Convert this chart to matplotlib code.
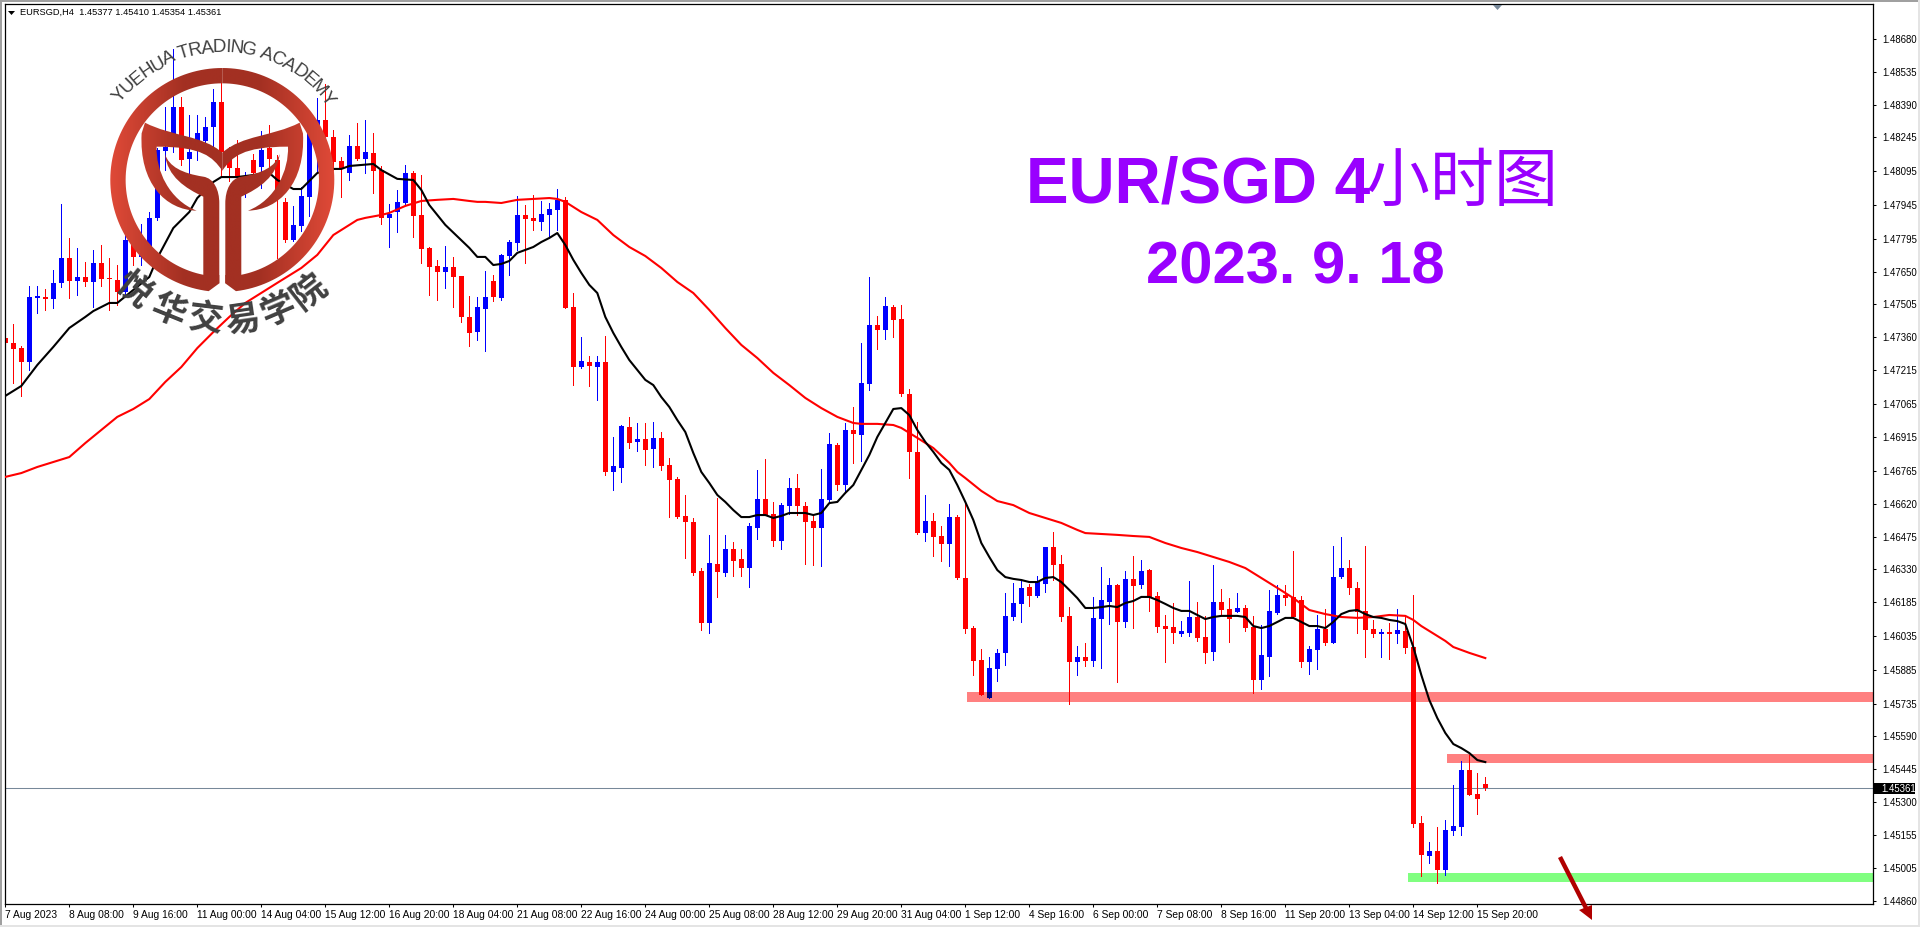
import numpy as np
import matplotlib
matplotlib.use("Agg")
import matplotlib.pyplot as plt
from matplotlib.colors import LinearSegmentedColormap
from matplotlib.patches import PathPatch, Polygon, Rectangle
from matplotlib.path import Path

# prices are in points (price x 100000), bars are 4 hours
opens = [147356,147334,147311,147249,147533,147537,147529,147600,147710,147608,
147626,147604,147688,147622,147613,147560,147812,147715,147759,147888,
148185,148202,148380,148149,148220,148229,148291,148402,148158,148109,
148012,148145,148114,148198,148145,147959,147790,147852,147981,148264,
148322,148247,148140,148087,148207,148149,148176,148100,147888,147914,
147954,148087,147901,147755,147675,147648,147671,147631,147449,147382,
147484,147608,147533,147719,147777,147901,147888,147870,147901,147923,
147968,147493,147227,147249,147227,147249,146762,146780,146961,146895,
146908,146864,146913,146793,146731,146567,146540,146323,146092,146354,
146314,146420,146376,146336,146514,146642,146576,146456,146611,146691,
146611,146545,146514,146638,146882,146704,146948,146926,147152,147413,
147391,147493,147440,147108,146851,146491,146545,146478,146443,146562,
146292,146070,145929,145760,145889,145960,146119,146177,146252,146212,
146265,146429,146354,146124,145920,145942,145924,146110,146186,146261,
146097,146288,146261,146327,146212,146079,146075,146044,146048,146119,
146030,145964,146186,146155,146141,146159,146075,145840,145942,146137,
146217,146208,146194,145920,145973,146066,146004,146296,146336,146248,
146146,146066,146044,146053,146044,146057,145986,145206,145060,145082,
144998,145171,145188,145441,145335,145377]

closes = [147334,147307,147249,147537,147542,147529,147600,147710,147608,147626,
147604,147688,147617,147617,147560,147790,147715,147790,147888,148189,
148202,148380,148145,148180,148264,148291,148402,148180,148109,148069,
148069,148087,148189,148149,148012,147790,147857,147985,148264,148322,
148247,148136,148109,148207,148149,148180,148096,147888,147905,147959,
148087,147897,147750,147671,147648,147671,147626,147449,147378,147493,
147537,147537,147724,147781,147901,147883,147874,147905,147928,147968,
147489,147227,147254,147232,147249,146762,146788,146966,146890,146908,
146859,146913,146788,146726,146562,146540,146314,146092,146358,146319,
146420,146367,146336,146522,146642,146571,146456,146615,146691,146611,
146540,146514,146642,146886,146704,146948,146930,147156,147413,147391,
147498,147436,147108,146851,146491,146545,146474,146443,146562,146292,
146066,145924,145773,145893,145960,146124,146181,146248,146212,146274,
146429,146350,146119,145920,145942,145924,146115,146194,146261,146097,
146288,146257,146323,146208,146075,146066,146048,146057,146119,146026,
145960,146186,146150,146110,146159,146070,145840,145951,146146,146217,
146203,146119,145920,145977,146066,146004,146296,146336,146248,146141,
146061,146044,146053,146044,146061,145982,145202,145064,145082,144998,
145175,145193,145441,145330,145312,145361]

highs = [147449,147418,147320,147586,147586,147573,147657,147950,147799,147755,
147693,147746,147768,147710,147679,147835,147857,147861,147914,148198,
148380,148637,148424,148344,148344,148335,148459,148486,148202,148233,
148092,148171,148273,148300,148167,147976,147941,148025,148335,148420,
148482,148278,148158,148256,148309,148322,148264,148118,147950,148012,
148123,148096,148078,147759,147702,147764,147715,147631,147542,147537,
147653,147635,147728,147790,147985,147945,147990,147963,147954,148016,
147981,147555,147360,147276,147276,147365,146917,146970,147006,146979,
146979,146983,146939,146824,146740,146660,146558,146336,146483,146647,
146483,146452,146420,146536,146771,146819,146629,146624,146735,146753,
146629,146571,146775,146935,146890,146979,147050,147334,147626,147453,
147537,147502,147502,147130,146983,146660,146580,146522,146620,146571,
146629,146079,145977,145942,145977,146226,146270,146283,146265,146301,
146429,146496,146394,146163,145990,146004,146208,146341,146292,146265,
146323,146390,146372,146332,146230,146128,146181,146101,146279,146186,
146124,146350,146243,146203,146226,146172,146124,146084,146239,146261,
146261,146412,146212,145990,146128,146155,146434,146474,146372,146274,
146434,146106,146066,146092,146155,146128,146217,145237,145122,145188,
145219,145374,145481,145507,145428,145410]

lows = [147289,147156,147099,147214,147467,147480,147489,147582,147533,147546,
147586,147493,147586,147480,147502,147546,147679,147679,147733,147879,
148100,148180,148123,148025,148145,148198,148202,148069,148052,148047,
147981,148065,148021,148092,147710,147781,147786,147830,147897,148087,
148211,148100,147981,148056,148145,148087,147999,147861,147759,147826,
147950,147804,147688,147546,147524,147577,147493,147427,147320,147347,
147298,147520,147524,147635,147746,147688,147835,147835,147799,147835,
147489,147147,147223,147143,147081,146749,146682,146718,146868,146855,
146793,146784,146771,146562,146558,146381,146305,146061,146048,146208,
146301,146301,146301,146252,146465,146571,146434,146420,146576,146571,
146354,146350,146345,146624,146682,146669,146802,146811,147125,147307,
147351,147360,147099,146735,146487,146456,146390,146367,146345,146288,
146048,145862,145773,145760,145835,145906,146106,146097,146168,146208,
146230,146283,146101,145733,145862,145902,145902,145893,146088,145831,
146075,146070,146248,146146,146053,145920,146004,146035,146035,146013,
145915,145929,146128,146008,146141,146057,145782,145800,145857,146132,
146172,146119,145897,145866,145889,145995,146004,146292,146221,146048,
145942,146030,145942,145933,146004,145960,145188,144971,145029,144940,
144975,145153,145153,145330,145246,145354]

# moving averages, read at these bars
black_bars = [0,2,4,6,8,10,11,13,14,18,19,21,23,24,26,27,29,33,34,36,37,39,41,42,43,46,47,49,51,52,53,55,58,59] + list(range(60, 186))
black_ma = [147099,147143,147236,147316,147400,147449,147475,147511,147511,147626,147710,147843,147914,147976,148047,148069,148069,148087,148056,148016,148016,148087,148105,148105,148118,148127,148100,148061,148056,148012,147945,147857,147755,147715,
147715,147679,147684,147697,147733,147746,147759,147781,147799,147821,
147768,147702,147644,147591,147555,147449,147378,147316,147258,147214,
147170,147147,147094,147050,146992,146939,146846,146762,146713,146660,
146629,146593,146562,146562,146571,146571,146558,146567,146580,146580,
146580,146571,146580,146624,146629,146669,146704,146771,146837,146917,
146979,147041,147045,147014,146948,146895,146851,146802,146771,146704,
146629,146549,146447,146385,146327,146296,146288,146283,146274,146274,
146292,146296,146274,146239,146203,146159,146159,146163,146168,146163,
146181,146190,146208,146208,146194,146177,146159,146146,146146,146128,
146110,146119,146124,146124,146124,146119,146079,146070,146079,146097,
146115,146115,146097,146079,146079,146070,146097,146132,146146,146150,
146132,146119,146115,146106,146101,146088,145986,145862,145751,145671,
145605,145556,145538,145516,145485,145476]

red_bars = [0,2,4,6,8,10,12,14,16,18,20,22,24,26,28,30,34,37,39,41,44,45,47,48,50,52,54,56,58,59,60,62,64,66,68,69,70,72,74,76,78,80,82,84,86,88,90,92,94,96,98,100,102,104,106,107,109,111,112,114,116,118,119,120,122,124,126,128,130,132,134,135,137,139,141,143,145,147,149,151,153,155,157,159,161,163,165,167,169,171,173,175,176,177,178,180,181,183,185]
red_ma = [146740,146757,146784,146806,146828,146890,146948,147006,147041,147085,147161,147227,147311,147382,147449,147511,147600,147666,147724,147812,147879,147888,147901,147910,147941,147963,147968,147972,147963,147959,147959,147954,147968,147972,147976,147972,147959,147914,147879,147812,147759,147719,147666,147604,147555,147480,147400,147325,147267,147201,147147,147090,147045,147006,146979,146975,146975,146970,146957,146913,146868,146802,146762,146735,146678,146633,146615,146580,146558,146536,146505,146491,146487,146483,146478,146474,146447,146425,146407,146385,146363,146336,146292,146248,146203,146150,146132,146119,146115,146119,146128,146124,146106,146079,146057,146013,145986,145960,145937]

# drawn zones: low, high, first bar
zone_upper = [145742, 145787, 120.2]
zone_mid = [145472, 145512, 180.2]
zone_green = [144945, 144984, 175.3]
last_price = 145361

y_ticks = [148680,148535,148390,148245,148095,147945,147795,147650,147505,147360,147215,147065,146915,146765,146620,146475,146330,146185,146035,145885,145735,145590,145445,145300,145155,145005,144860]
x_labels = ["7 Aug 2023","8 Aug 08:00","9 Aug 16:00","11 Aug 00:00","14 Aug 04:00","15 Aug 12:00","16 Aug 20:00","18 Aug 04:00","21 Aug 08:00","22 Aug 16:00","24 Aug 00:00","25 Aug 08:00","28 Aug 12:00","29 Aug 20:00","31 Aug 04:00","1 Sep 12:00","4 Sep 16:00","6 Sep 00:00","7 Sep 08:00","8 Sep 16:00","11 Sep 20:00","13 Sep 04:00","14 Sep 12:00","15 Sep 20:00"]

plt.rcParams['font.family'] = ['Liberation Sans', 'Noto Sans CJK SC']
W, H = 1920, 927
fig = plt.figure(figsize=(W/100, H/100), dpi=100, facecolor='white')

ax = fig.add_axes([4.5/W, (H-904)/H, (1873-4.5)/W, 900/H])
ax.set_xlim(-0.1, 233.46)
ax.set_ylim(1.44847, 1.48836)

o = np.array(opens)/1e5
c = np.array(closes)/1e5
hi = np.array(highs)/1e5
lo = np.array(lows)/1e5
bars = np.arange(len(o))
colors = np.where(c >= o, '#0000ff', '#ff0000')
xmax = ax.get_xlim()[1]

for z, col in [(zone_upper, '#ff8080'), (zone_mid, '#ff8080'), (zone_green, '#80ff80')]:
    ax.fill_between([z[2], xmax], z[0]/1e5, z[1]/1e5, color=col, lw=0, zorder=1)

ax.axhline(last_price/1e5, color='#778899', lw=0.75, zorder=1.5)

ax.vlines(bars, lo, hi, colors=colors, lw=0.72, antialiased=False, zorder=2)
ax.bar(bars, np.abs(c-o), bottom=np.minimum(o, c), width=5/8, color=colors, lw=0, antialiased=False, zorder=2)

# blue over the zones comes out navy in the original
for i in bars[(c >= o)]:
    a = max(o[i], zone_upper[0]/1e5)
    b = min(c[i], zone_upper[1]/1e5)
    if b > a and i >= zone_upper[2]:
        ax.bar(i, b-a, bottom=a, width=5/8, color='#000080', lw=0, antialiased=False, zorder=2.1)

ax.plot(red_bars, np.array(red_ma)/1e5, color='#ff0000', lw=1.5, zorder=3)
ax.plot(black_bars, np.array(black_ma)/1e5, color='#000000', lw=1.5, zorder=3.1)

ax.set_yticks(np.array(y_ticks)/1e5)
ax.set_yticklabels([f"{v/1e5:.5f}" for v in y_ticks])
ax.set_xticks(bars[::8])
ax.set_xticklabels(x_labels, ha='left')
ax.yaxis.tick_right()
ax.tick_params(axis='both', length=2.5, width=0.75, color='black')
ax.tick_params(axis='y', pad=4, labelsize=6.9)
ax.tick_params(axis='x', pad=1.5, labelsize=7.4)
for s in ax.spines.values():
    s.set_linewidth(0.9)

# pixel overlay for logo, titles, arrow
ov = fig.add_axes([0, 0, 1, 1], zorder=5)
ov.patch.set_alpha(0)
ov.set_xlim(0, W)
ov.set_ylim(H, 0)
ov.axis('off')

# window frame
ov.add_patch(Rectangle((0, 0), W, 1.6, color='#a0a0a0', lw=0))
ov.add_patch(Rectangle((0, 0), 1.8, H, color='#a0a0a0', lw=0))
ov.add_patch(Rectangle((0, H-2), W, 2, color='#e4e4e4', lw=0))
ov.add_patch(Rectangle((W-2, 0), 2, H, color='#e4e4e4', lw=0))
ov.add_patch(Polygon([(1493, 5), (1502, 5), (1497.5, 10)], color='#778899', lw=0))

# header
ov.add_patch(Polygon([(8, 11), (15, 11), (11.5, 15)], color='black', lw=0))
ov.text(20, 12.5, "EURSGD,H4  1.45377 1.45410 1.45354 1.45361", fontsize=6.7, va='center', ha='left', color='black')

# last price box
ov.add_patch(Rectangle((1874, 783), 41, 11, color='black', lw=0))
ov.text(1881, 788.5, f"{last_price/1e5:.5f}", fontsize=6.9, color='white', va='center', ha='left')

# titles
purple = '#9900ff'
ov.text(1026, 202, "EUR/SGD 4", fontsize=46, weight='bold', color=purple, va='baseline', ha='left')
for ch, xc in zip("小时图", [1398, 1462, 1526]):
    ov.text(xc, 183, ch, fontsize=46, color=purple, va='center', ha='center', family='Noto Sans CJK SC')
ov.text(1146, 284, "2023. 9. 18", fontsize=43, weight='bold', color=purple, va='baseline', ha='left')

# arrow
arrow_col = '#b00000'
ov.plot([1560, 1586], [857, 908], color=arrow_col, lw=3.2, solid_capstyle='butt')
ov.add_patch(Polygon([(1592, 920), (1579, 910), (1592, 905)], color=arrow_col, lw=0))

# logo
cx, cy = 222.3, 180.0
s = 1/3
grad = LinearSegmentedColormap.from_list('logo', ['#e04a38', '#a33022', '#a33022', '#e04a38'])


def half_ring():
    t1 = np.radians(np.linspace(0, 173, 80))
    t2 = np.radians(np.linspace(168.7, 0, 80))
    outer = np.c_[-336*np.sin(t1), -336*np.cos(t1)]
    inner = np.c_[-290*np.sin(t2), -290*np.cos(t2)]
    return np.vstack([outer, [(-9, 310), (-9, 285)], inner, outer[:1]])


ring_codes = [Path.MOVETO] + [Path.LINETO]*(len(half_ring())-2) + [Path.CLOSEPOLY]
stem_pts = [(-172,-78),(-160,-40),(-120,-20),(-57,-10),(-25,-5),(-9,30),(-9,70),(-9,310),(-57,290),(-57,50),(-110,25),(-165,-10),(-172,-78),(-172,-78)]
stem_codes = [Path.MOVETO] + [Path.CURVE4]*6 + [Path.LINETO]*3 + [Path.CURVE4]*3 + [Path.CLOSEPOLY]
wing_pts = [(-232,-172),(-150,-130),(-60,-135),(0,-82),(0,-28),(-30,-70),(-60,-100),(-197,-100),(-200,-30),(-160,60),(-77,92),(-170,90),(-250,10),(-242,-140),(-232,-172)]
wing_codes = [Path.MOVETO] + [Path.CURVE4]*3 + [Path.LINETO] + [Path.CURVE4]*9 + [Path.CLOSEPOLY]

gradient = np.linspace(0, 1, 256).reshape(1, -1)
for pts, codes in [(half_ring(), ring_codes), (stem_pts, stem_codes), (wing_pts, wing_codes)]:
    pts = np.array(pts, dtype=float)*s
    for side in (1, -1):
        p = pts*[side, 1] + [cx, cy]
        patch = PathPatch(Path(p, codes), facecolor='none', edgecolor='none', transform=ov.transData)
        ov.add_patch(patch)
        im = ov.imshow(gradient, cmap=grad, aspect='auto', extent=(cx-113, cx+113, cy+113, cy-113), zorder=4)
        im.set_clip_path(patch)
ov.set_xlim(0, W)
ov.set_ylim(H, 0)

# letters along the top arc, spaced by rough glyph width
academy = "YUEHUA TRADING ACADEMY"
glyph = {' ': .28, 'I': .28, 'T': .61, 'M': .83, 'G': .78}
adv = np.array([glyph.get(ch, .7) for ch in academy])
pos = np.cumsum(adv) - adv/2
thetas = -53 + 108*pos/adv.sum()
for ch, th in zip(academy, thetas):
    a = np.radians(th)
    ov.text(cx + 128*np.sin(a), cy - 128*np.cos(a), ch, fontsize=13.5, color='#404040', rotation=-th,
            rotation_mode='anchor', ha='center', va='baseline', zorder=6)

for ch, th in zip("悦华交易学院", [-39, -22, -7, 8.4, 23, 38]):
    a = np.radians(th)
    ov.text(cx + 141*np.sin(a), cy + 141*np.cos(a), ch, fontsize=25, weight='bold', color='#404040', rotation=th,
            rotation_mode='anchor', ha='center', va='center', zorder=6, family='Noto Sans CJK SC')

fig.savefig('out.png', dpi=100)
